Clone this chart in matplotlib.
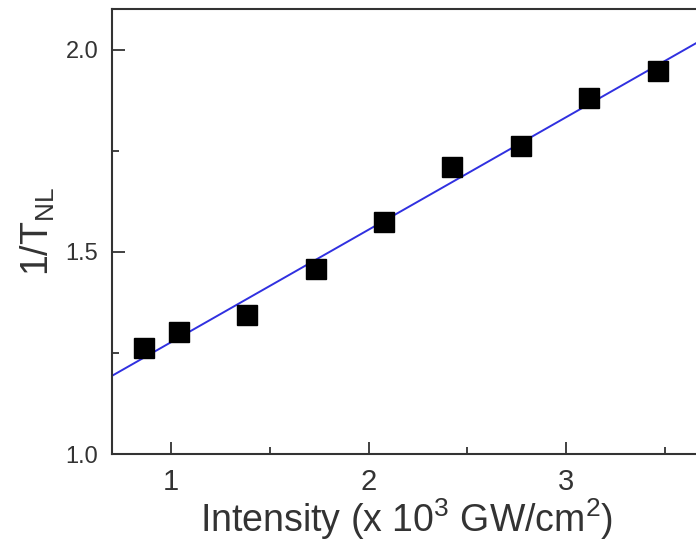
import numpy as np
import matplotlib
matplotlib.use("Agg")
import matplotlib.pyplot as plt
from matplotlib.ticker import MultipleLocator

plt.rcParams['font.family'] = ['Liberation Sans', 'DejaVu Sans']
plt.rcParams['mathtext.fontset'] = 'custom'
plt.rcParams['mathtext.rm'] = 'Liberation Sans'

intensity = [0.864, 1.04, 1.384, 1.732, 2.076, 2.424, 2.773, 3.116, 3.465]
inv_t = [1.262, 1.301, 1.343, 1.459, 1.573, 1.709, 1.763, 1.881, 1.948]

# linear fit line
slope, icpt = np.polyfit(intensity, inv_t, 1)
xfit = np.array([0.70, 3.70])

fig = plt.figure(figsize=(6.96, 5.44), dpi=100)
ax = fig.add_axes([0.161, 0.165, 0.845, 0.818])

ax.plot(xfit, slope * xfit + icpt, color='#3030e0', lw=1.4, zorder=2)
ax.plot(intensity, inv_t, 's', color='black', ms=14, zorder=3)

ax.set_xlim(0.70, 3.68)
ax.set_ylim(1.0, 2.1)
ax.xaxis.set_major_locator(MultipleLocator(1))
ax.xaxis.set_minor_locator(MultipleLocator(0.5))
ax.yaxis.set_major_locator(MultipleLocator(0.5))
ax.yaxis.set_minor_locator(MultipleLocator(0.25))
ax.yaxis.set_major_formatter(matplotlib.ticker.FormatStrFormatter('%.1f'))

for s in ax.spines.values():
    s.set_color('#333333')
    s.set_linewidth(1.5)
ax.tick_params(which='both', direction='in', color='#333333', width=1.3,
               top=False, right=False, labelcolor='#333333')
ax.tick_params(which='major', length=9)
ax.tick_params(axis='x', which='major', pad=10, labelsize=21)
ax.tick_params(axis='y', which='major', pad=10, labelsize=17)
ax.tick_params(which='minor', length=5)

ax.set_xlabel(r'Intensity (x 10$^3$ GW/cm$^2$)', fontsize=27, color='#333333', labelpad=0)
ax.set_ylabel(r'1/T$_{\mathrm{NL}}$', fontsize=27, color='#333333', labelpad=6)

fig.savefig('out.png', dpi=100)
